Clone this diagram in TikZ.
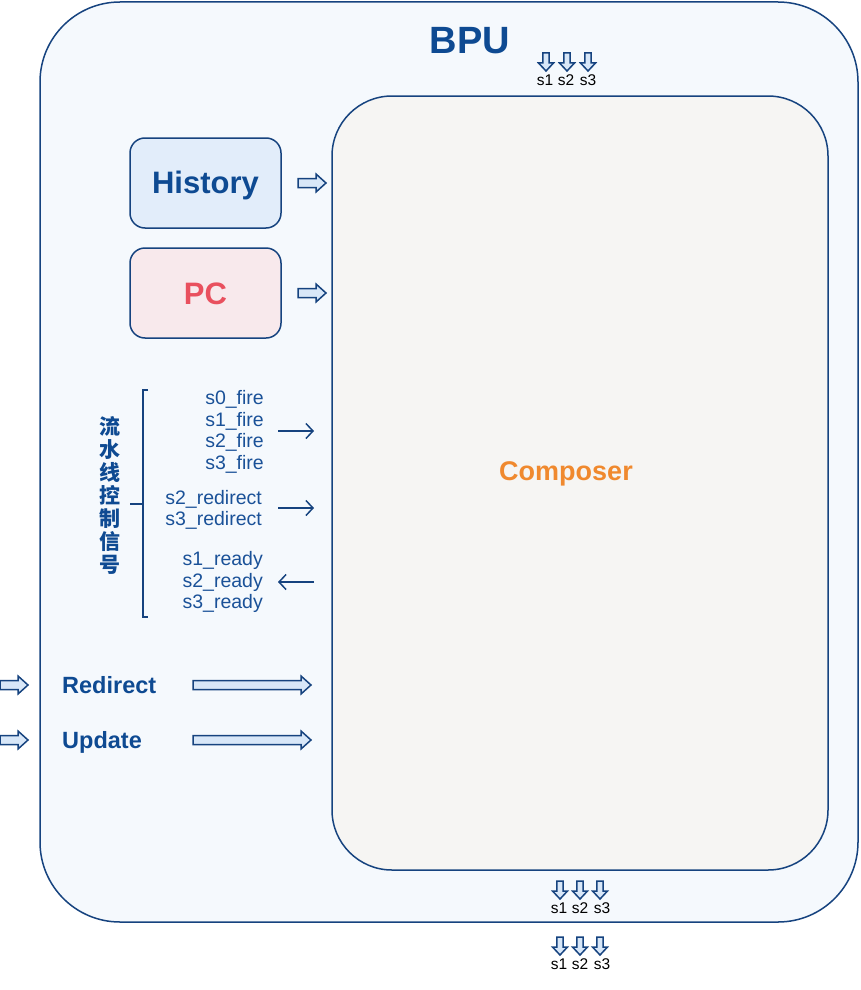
\documentclass[tikz,border=0pt]{standalone}
\usepackage{fontspec}
\setmainfont{Liberation Sans}
\newfontfamily\cjk{Noto Sans CJK SC}
\usetikzlibrary{arrows.meta}
\definecolor{lineblue}{HTML}{16437F}
\definecolor{textblue}{HTML}{0E4A92}
\definecolor{sigblue}{HTML}{1A5198}
\definecolor{outerfill}{HTML}{F5F9FD}
\definecolor{compfill}{HTML}{F6F5F3}
\definecolor{histfill}{HTML}{E2EDFA}
\definecolor{pcfill}{HTML}{F8E9EC}
\definecolor{pctext}{HTML}{E9505E}
\definecolor{comptext}{HTML}{F0892E}
\definecolor{arrfill}{HTML}{D8E7F8}
\tikzset{
  boxline/.style={draw=lineblue, line width=1.5pt},
  sig/.style={font=\fontsize{19.5}{21.7}\selectfont, text=sigblue, align=right, anchor=east, inner sep=0pt},
  small/.style={font=\fontsize{15.5}{15.5}\selectfont, text=black, inner sep=0pt},
  thinarrow/.style={draw=lineblue, line width=1.5pt, -{Straight Barb[length=7pt,width=15pt,line width=1.5pt]}},
  hollow/.style={draw=lineblue, fill=arrfill, line width=1.5pt, line join=miter},
}
% right-pointing hollow arrow: x1, y, x2, body half, head half, head length
\newcommand{\rharrow}[6]{\path[hollow] (#1,#2-#4) -- (#3-#6,#2-#4) -- (#3-#6,#2-#5) -- (#3,#2) -- (#3-#6,#2+#5) -- (#3-#6,#2+#4) -- (#1,#2+#4) -- cycle;}
% down-pointing hollow arrow: x, y1, y2
\newcommand{\dharrow}[3]{\path[hollow] (#1-3.2,#2) -- (#1+3.2,#2) -- (#1+3.2,#3-8) -- (#1+7.5,#3-8) -- (#1,#3) -- (#1-7.5,#3-8) -- (#1-3.2,#3-8) -- cycle;}
\begin{document}
\begin{tikzpicture}[x=1pt,y=-1pt]
\useasboundingbox (0,0) rectangle (860,990);
% outer BPU
\path[boxline, fill=outerfill, rounded corners=80pt] (40,2) rectangle (858,922);
\node[font=\bfseries\fontsize{38}{38}\selectfont, text=textblue] (bpu) at (470,41) {BPU};
% composer
\path[boxline, fill=compfill, rounded corners=60pt] (332,96) rectangle (828,870);
\node[font=\bfseries\fontsize{27}{27}\selectfont, text=comptext] (composer) at (566,474) {Composer};
% history & pc
\path[boxline, fill=histfill, rounded corners=15pt] (130,138) rectangle (281,228);
\node[font=\bfseries\fontsize{31}{31}\selectfont, text=textblue] (history) at (205.5,185) {History};
\path[boxline, fill=pcfill, rounded corners=15pt] (130,248) rectangle (281,338);
\node[font=\bfseries\fontsize{31}{31}\selectfont, text=pctext] (pc) at (205.5,294) {PC};
\rharrow{298}{183}{326}{4.5}{9}{10}
\rharrow{298}{293}{326}{4.5}{9}{10}
% top s1 s2 s3
\dharrow{546}{53}{71}
\dharrow{567}{53}{71}
\dharrow{588}{53}{71}
\node[small] (t1) at (545,80) {s1};
\node[small] (t2) at (566,80) {s2};
\node[small] (t3) at (588,80) {s3};
% bottom sets
\dharrow{560}{881}{899}
\dharrow{580}{881}{899}
\dharrow{600}{881}{899}
\node[small] (b1) at (559,908) {s1};
\node[small] (b2) at (580,908) {s2};
\node[small] (b3) at (602,908) {s3};
\dharrow{560}{937}{955}
\dharrow{580}{937}{955}
\dharrow{600}{937}{955}
\node[small] (c1) at (559,964) {s1};
\node[small] (c2) at (580,964) {s2};
\node[small] (c3) at (602,964) {s3};
% pipeline control
\draw[draw=lineblue, line width=1.3pt] (148,390) -- (143,390) -- (143,617) -- (148,617);
\draw[draw=lineblue, line width=1.3pt] (130,504) -- (143,504);
\node[font=\cjk\bfseries\fontsize{21}{23}\selectfont, text=textblue, align=center, inner sep=0pt] (ctrl) at (110,495) {流\\水\\线\\控\\制\\信\\号};
\node[sig] (fire) at (264,432) {s0\_fire\\s1\_fire\\s2\_fire\\s3\_fire};
\node[sig] (redir) at (262,510) {s2\_redirect\\s3\_redirect};
\node[sig] (ready) at (263,582) {s1\_ready\\s2\_ready\\s3\_ready};
\coordinate (fa) at (278,431); \coordinate (fb) at (314,431);
\coordinate (ra) at (278,508); \coordinate (rb) at (314,508);
\coordinate (ya) at (314,582); \coordinate (yb) at (278,582);
\draw[thinarrow] (fa) -- (fb);
\draw[thinarrow] (ra) -- (rb);
\draw[thinarrow] (ya) -- (yb);
% redirect / update
\node[font=\bfseries\fontsize{23.5}{23.5}\selectfont, text=textblue, anchor=west, inner sep=0pt] (redirect) at (62,685) {Redirect};
\node[font=\bfseries\fontsize{23.5}{23.5}\selectfont, text=textblue, anchor=west, inner sep=0pt] (update) at (62,742) {Update};
\rharrow{0}{685}{28}{4.5}{9}{10}
\rharrow{0}{740}{28}{4.5}{9}{10}
\rharrow{193}{685}{311}{4.5}{9}{10}
\rharrow{193}{740}{311}{4.5}{9}{10}
\end{tikzpicture}
\end{document}
